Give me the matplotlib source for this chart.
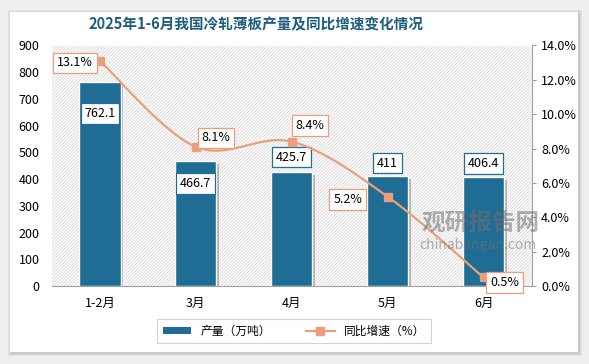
import numpy as np
import matplotlib
matplotlib.use("Agg")
import matplotlib.pyplot as plt
from matplotlib.patches import Rectangle
from matplotlib.lines import Line2D
from matplotlib.patches import Patch
import matplotlib.patheffects as pe
from matplotlib.ticker import FuncFormatter

plt.rcParams["font.family"] = ["Noto Sans CJK SC", "DejaVu Sans"]
plt.rcParams["hatch.linewidth"] = 0.6

# data
months = ["1-2月", "3月", "4月", "5月", "6月"]
output = [762.1, 466.7, 425.7, 411, 406.4]
output_labels = ["762.1", "466.7", "425.7", "411", "406.4"]
growth = [13.1, 8.1, 8.4, 5.2, 0.5]

bar_color = "#1f6c94"
line_color = "#e99f7c"

W, H = 589, 364
fig = plt.figure(figsize=(W / 100, H / 100), dpi=100)
fig.patch.set_facecolor("#efefef")

# white card with soft shadow
for i, a in enumerate([0.05, 0.05, 0.06]):
    fig.patches.append(Rectangle(((10 - 2 + i) / W, (364 - 354 - 2 + i) / H),
                                 (570 + 4 - 2 * i) / W, (342 + 4 - 2 * i) / H,
                                 transform=fig.transFigure, facecolor="black",
                                 alpha=a, edgecolor="none", zorder=-10))
fig.patches.append(Rectangle((10 / W, (364 - 352) / H), 568 / W, 340 / H,
                             transform=fig.transFigure, facecolor="white",
                             edgecolor="none", zorder=-9))

left, right, top, bottom = 52, 531.5, 45.5, 286
ax = fig.add_axes([left / W, (H - bottom) / H, (right - left) / W, (bottom - top) / H])
ax.set_facecolor("none")
ax.add_patch(Rectangle((0, 0), 1, 1, transform=ax.transAxes, facecolor="white",
                       edgecolor="#d6d6d6", hatch="//////////", linewidth=0, zorder=0))

x = np.arange(len(months))
bars = ax.bar(x, output, width=0.43, color=bar_color, edgecolor="white", linewidth=1,
              zorder=2)
for b in bars:
    b.set_path_effects([pe.SimplePatchShadow(offset=(2, -2), shadow_rgbFace="black",
                                             alpha=0.25), pe.Normal()])

ax.set_xlim(-0.5, len(months) - 0.5)
ax.set_ylim(0, 900)
ax.set_yticks(range(0, 901, 100))
ax.set_xticks(x, months)
for s in ["top", "left", "right"]:
    ax.spines[s].set_visible(False)
ax.spines["bottom"].set_color("#a0a0a0")
ax.tick_params(axis="y", length=0, labelsize=9, pad=9)
ax.tick_params(axis="x", length=0, labelsize=9, pad=8)

bar_offsets = [-31, -22, 15, 13, 14]
for xi, v, lab, dy in zip(x, output, output_labels, bar_offsets):
    ax.annotate(lab, (xi, v), xytext=(0, dy * 0.72), textcoords="offset points",
                ha="center", va="center", fontsize=9, zorder=5,
                bbox=dict(boxstyle="square,pad=0.3", fc="white", ec=bar_color, lw=0.9))

ax2 = ax.twinx()
ax2.set_ylim(0, 14)
ax2.set_yticks(np.arange(0, 14.1, 2))
ax2.yaxis.set_major_formatter(FuncFormatter(lambda v, p: f"{v:.1f}%"))
for s in ["top", "left", "bottom"]:
    ax2.spines[s].set_visible(False)
ax2.spines["right"].set_color("#a0a0a0")
ax2.tick_params(axis="y", length=3, color="#a0a0a0", labelsize=9, pad=4)

# smoothed line (Catmull-Rom style bezier through the points)
px = x.astype(float)
py = np.array(growth, dtype=float)
n = len(px)
sx, sy = [], []
t = np.linspace(0, 1, 30)
for i in range(n - 1):
    p0 = np.array([px[max(i - 1, 0)], py[max(i - 1, 0)]])
    p1 = np.array([px[i], py[i]])
    p2 = np.array([px[i + 1], py[i + 1]])
    p3 = np.array([px[min(i + 2, n - 1)], py[min(i + 2, n - 1)]])
    c1 = p1 + (p2 - p0) / 6
    c2 = p2 - (p3 - p1) / 6
    pts = ((1 - t) ** 3)[:, None] * p1 + (3 * (1 - t) ** 2 * t)[:, None] * c1 \
        + (3 * (1 - t) * t ** 2)[:, None] * c2 + (t ** 3)[:, None] * p2
    sx.extend(pts[:, 0])
    sy.extend(pts[:, 1])
ax2.plot(sx, sy, color=line_color, lw=1.6, zorder=3)
ax2.plot(px, py, ls="none", marker="s", ms=6, color=line_color, zorder=4)

line_offsets = [(-25, -2), (20, 9), (18, 16), (-40, -3), (21, -5)]
for xi, v, (dx, dy) in zip(px, growth, line_offsets):
    ax2.annotate(f"{v}%", (xi, v), xytext=(dx * 0.72, dy * 0.72), textcoords="offset points",
                 ha="center", va="center", fontsize=9, zorder=5,
                 bbox=dict(boxstyle="square,pad=0.3", fc="white", ec=line_color, lw=0.9))

# watermark
fig.text(481 / W, (H - 223) / H, "观研报告网", fontsize=17, fontweight="bold",
         color="#707070", alpha=0.55, ha="center", va="center")
fig.text(478 / W, (H - 245) / H, "chinabaogao.com", fontsize=10,
         color="#707070", alpha=0.55, ha="center", va="center")

fig.text(256 / W, (H - 24) / H, "2025年1-6月我国冷轧薄板产量及同比增速变化情况",
         fontsize=10.5, fontweight="bold", color="#1d5d7d", ha="center", va="center")

handles = [Patch(facecolor=bar_color, edgecolor="none"),
           Line2D([0], [0], color=line_color, lw=1.6, marker="s", ms=6)]
leg = fig.legend(handles, ["产量（万吨）", "同比增速（%）"], loc="center",
                 bbox_to_anchor=(294 / W, (H - 331) / H), ncol=2, fontsize=8.5,
                 frameon=True, fancybox=False, edgecolor="#c8c8c8", handlelength=2.4,
                 handleheight=0.5, columnspacing=3, borderpad=0.5)
leg.get_frame().set_linewidth(0.8)

fig.savefig("out.png", dpi=100, facecolor=fig.get_facecolor())
